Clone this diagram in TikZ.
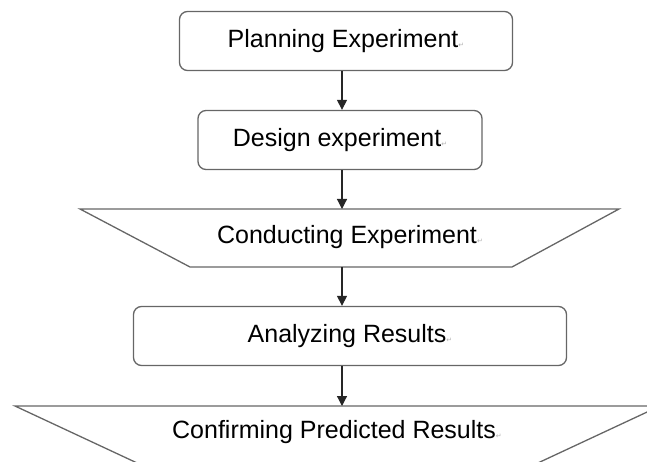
\documentclass[tikz,border=0pt]{standalone}
\usepackage{fontspec}
\setmainfont{Liberation Sans}
\newfontfamily\marksym{DejaVu Sans}
\usepackage{xcolor}
\usetikzlibrary{positioning,calc,arrows.meta}

\tikzset{
  stepline/.style={draw=black!60, line width=1.3pt},
  stepbox/.style={stepline, rounded corners=8pt, minimum height=59pt,
    font=\fontsize{25}{29}\selectfont},
  steptext/.style={font=\fontsize{25}{29}\selectfont, inner sep=0pt},
  flow/.style={draw=black!85, line width=1.2pt, -{Triangle[length=10pt,width=10pt]}}
}
\newcommand{\retmark}{{\marksym\fontsize{7}{7}\selectfont\textcolor{black!30}{↵}}}

\begin{document}
\begin{tikzpicture}[x=1pt,y=1pt]
    \useasboundingbox (0,0) rectangle (647,461);
    \clip (0,0) rectangle (647,461);

    % Rounded steps
    \node[stepbox, minimum width=333pt] (plan) at (346,420) {Planning Experiment\retmark};
    \node[stepbox, minimum width=284pt] (design) at (340,321) {Design experiment\retmark};
    \node[stepbox, minimum width=433pt] (analyze) at (350,125) {Analyzing Results\retmark};

    % Conducting (inverted trapezoid)
    \node[steptext] (conduct) at (350,224) {Conducting Experiment\retmark};
    \coordinate (conduct-top) at (342,252);
    \coordinate (conduct-bot) at (342,194);
    \draw[stepline] (80,252) -- (619,252) -- (512,194) -- (190,194) -- cycle;

    % Confirming (inverted trapezoid, runs off the page)
    \node[steptext] (confirm) at (337,29) {Confirming Predicted Results\retmark};
    \coordinate (confirm-top) at (342,55);
    \draw[stepline] (15,55) -- (660,55) -- (510,-15) -- (165,-15) -- cycle;

    % Arrows
    \draw[flow] (plan.south -| conduct-top) -- (design.north -| conduct-top);
    \draw[flow] (design.south -| conduct-top) -- (conduct-top);
    \draw[flow] (conduct-bot) -- (analyze.north -| conduct-bot);
    \draw[flow] (analyze.south -| confirm-top) -- (confirm-top);
\end{tikzpicture}
\end{document}
